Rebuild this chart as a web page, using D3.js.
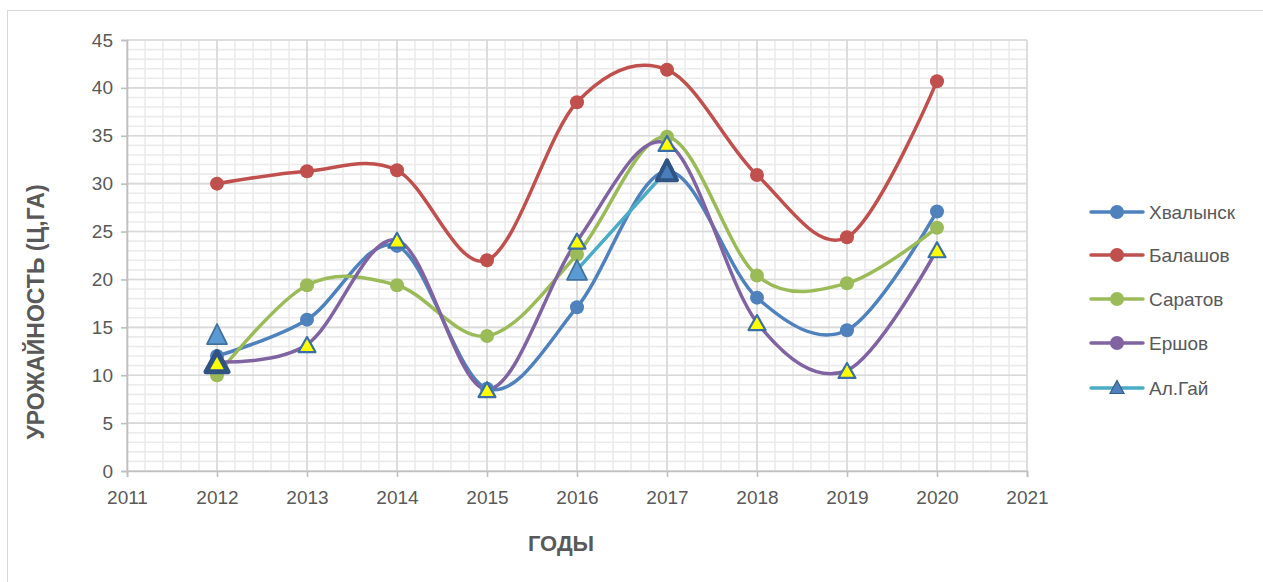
<!DOCTYPE html>
<html>
<head>
<meta charset="utf-8">
<script src="https://cdn.jsdelivr.net/npm/d3@7/dist/d3.min.js"></script>
<style>
  html, body { margin: 0; padding: 0; background: #fff; }
  svg { display: block; }
  text { font-family: "Liberation Sans", Arial, sans-serif; fill: #595959; }
</style>
</head>
<body>
<svg id="chart" width="1263" height="582"></svg>
<script>
// ---- data ----
const years = [2012, 2013, 2014, 2015, 2016, 2017, 2018, 2019, 2020];
const seriesNames = ["Хвалынск", "Балашов", "Саратов", "Ершов", "Ал.Гай"];
const khvalynsk = [12.0, 15.8, 23.5, 8.6, 17.1, 31.3, 18.1, 14.7, 27.1];
const balashov  = [30.0, 31.3, 31.4, 22.0, 38.5, 41.9, 30.9, 24.4, 40.7];
const saratov   = [10.0, 19.4, 19.4, 14.1, 22.6, 34.9, 20.4, 19.6, 25.4];
const ershov    = [11.4, 13.2, 24.1, 8.5, 24.0, 34.2, 15.5, 10.5, 23.1];
const alGai     = [14.3, null, null, null, 21.0, 31.4, null, null, null];
const xTicks = [2011, 2012, 2013, 2014, 2015, 2016, 2017, 2018, 2019, 2020, 2021];
const yTicks = [0, 5, 10, 15, 20, 25, 30, 35, 40, 45];
const xTitle = "ГОДЫ";
const yTitle = "УРОЖАЙНОСТЬ (Ц,ГА)";

// ---- layout / style ----
const colors = ["#4F81BD", "#C0504D", "#9BBB59", "#8064A2", "#4BACC6"];
const allValues = [khvalynsk, balashov, saratov, ershov, alGai];
const svg = d3.select("#chart");
const plot = { left: 127, right: 1027, top: 40, bottom: 471 };

const x = d3.scaleLinear().domain([2011, 2021]).range([plot.left, plot.right]);
const y = d3.scaleLinear().domain([0, 45]).range([plot.bottom, plot.top]);

// chart border
svg.append("rect").attr("x", 7.5).attr("y", 10.5).attr("width", 1300).attr("height", 600)
  .attr("fill", "none").attr("stroke", "#d9d9d9").attr("stroke-width", 1);

// minor grid
const g = svg.append("g");
d3.range(2011, 2021.001, 0.2).forEach(v => {
  g.append("line").attr("x1", x(v)).attr("x2", x(v)).attr("y1", plot.top).attr("y2", plot.bottom)
    .attr("stroke", "#ebebeb").attr("stroke-width", 1.6);
});
d3.range(0, 45.001, 1).forEach(v => {
  g.append("line").attr("x1", plot.left).attr("x2", plot.right).attr("y1", y(v)).attr("y2", y(v))
    .attr("stroke", "#ebebeb").attr("stroke-width", 1.6);
});
// major grid
xTicks.forEach(v => {
  g.append("line").attr("x1", x(v)).attr("x2", x(v)).attr("y1", plot.top).attr("y2", plot.bottom)
    .attr("stroke", "#d9d9d9").attr("stroke-width", 1.6);
});
yTicks.forEach(v => {
  g.append("line").attr("x1", plot.left).attr("x2", plot.right).attr("y1", y(v)).attr("y2", y(v))
    .attr("stroke", "#d9d9d9").attr("stroke-width", 1.6);
});

// axes
const yAxis = d3.axisLeft(y).tickValues(yTicks).tickSize(6).tickPadding(8);
const yg = svg.append("g").attr("transform", `translate(${plot.left},0)`).call(yAxis);
const xAxis = d3.axisBottom(x).tickValues(xTicks).tickFormat(d3.format("d")).tickSize(6).tickPadding(14);
const xg = svg.append("g").attr("transform", `translate(0,${plot.bottom})`).call(xAxis);
[yg, xg].forEach(a => {
  a.select(".domain").attr("stroke", "#bfbfbf").attr("stroke-width", 1.6);
  a.selectAll(".tick line").attr("stroke", "#bfbfbf").attr("stroke-width", 1.6);
  a.selectAll(".tick text").style("font-size", "19px").attr("fill", "#595959")
    .style("font-family", "'Liberation Sans', Arial, sans-serif");
});

// titles
svg.append("text").attr("x", 561).attr("y", 551).attr("text-anchor", "middle")
  .style("font-size", "22px").style("font-weight", "bold").text(xTitle);
svg.append("text").attr("transform", "translate(44,312) rotate(-90)").attr("text-anchor", "middle")
  .style("font-size", "23px").style("font-weight", "bold").text(yTitle);

// lines
const line = d3.line().defined(d => d.v != null).x(d => x(d.year)).y(d => y(d.v))
  .curve(d3.curveCardinal.tension(0));
const seriesData = allValues.map(vals => years.map((yr, i) => ({ year: yr, v: vals[i] })));
seriesData.forEach((data, si) => {
  svg.append("path").datum(data).attr("d", line).attr("fill", "none")
    .attr("stroke", colors[si]).attr("stroke-width", 3.5).attr("stroke-linecap", "round");
});

function triPath(w, h) {
  return `M0,${-h / 2}L${w / 2},${h / 2}L${-w / 2},${h / 2}Z`;
}

// markers
seriesData.forEach((data, si) => {
  const pts = data.filter(d => d.v != null);
  if (si < 3) {
    svg.selectAll(null).data(pts).enter().append("circle")
      .attr("cx", d => x(d.year)).attr("cy", d => y(d.v)).attr("r", 7)
      .attr("fill", colors[si]);
  } else if (si === 3) {
    svg.selectAll(null).data(pts).enter().append("path")
      .attr("transform", d => `translate(${x(d.year)},${y(d.v)})`)
      .attr("d", (d, i) => i === 0 ? triPath(22, 20) : triPath(17, 15))
      .attr("fill", "#FFFF00")
      .attr("stroke", (d, i) => i === 0 ? "#2F5383" : "#3A6EA5")
      .attr("stroke-width", (d, i) => i === 0 ? 5 : 2.2)
      .attr("stroke-linejoin", "round");
  } else {
    svg.selectAll(null).data(pts).enter().append("path")
      .attr("transform", d => `translate(${x(d.year)},${y(d.v)})`)
      .attr("d", d => triPath(20, 20))
      .attr("fill", (d, i) => i === 2 ? "#4A7EBB" : "#5B9BD5")
      .attr("stroke", (d, i) => i === 2 ? "#2F5383" : "#41719C")
      .attr("stroke-width", (d, i) => i === 2 ? 4 : 1.8)
      .attr("stroke-linejoin", "round");
  }
});

// legend
const legY = [212, 255, 299, 343, 388];
seriesNames.forEach((name, si) => {
  const lg = svg.append("g").attr("transform", `translate(0,${legY[si]})`);
  lg.append("line").attr("x1", 1091).attr("x2", 1143).attr("y1", 0).attr("y2", 0)
    .attr("stroke", colors[si]).attr("stroke-width", 3.5).attr("stroke-linecap", "round");
  if (si < 4) {
    lg.append("circle").attr("cx", 1117).attr("cy", 0).attr("r", 7).attr("fill", colors[si]);
  } else {
    lg.append("path").attr("transform", "translate(1117,-1)").attr("d", triPath(14, 13))
      .attr("fill", "#4F81BD").attr("stroke", "#385D8A").attr("stroke-width", 1.2);
  }
  lg.append("text").attr("x", 1149).attr("y", 7).style("font-size", "19px").text(name);
});
</script>
</body>
</html>
